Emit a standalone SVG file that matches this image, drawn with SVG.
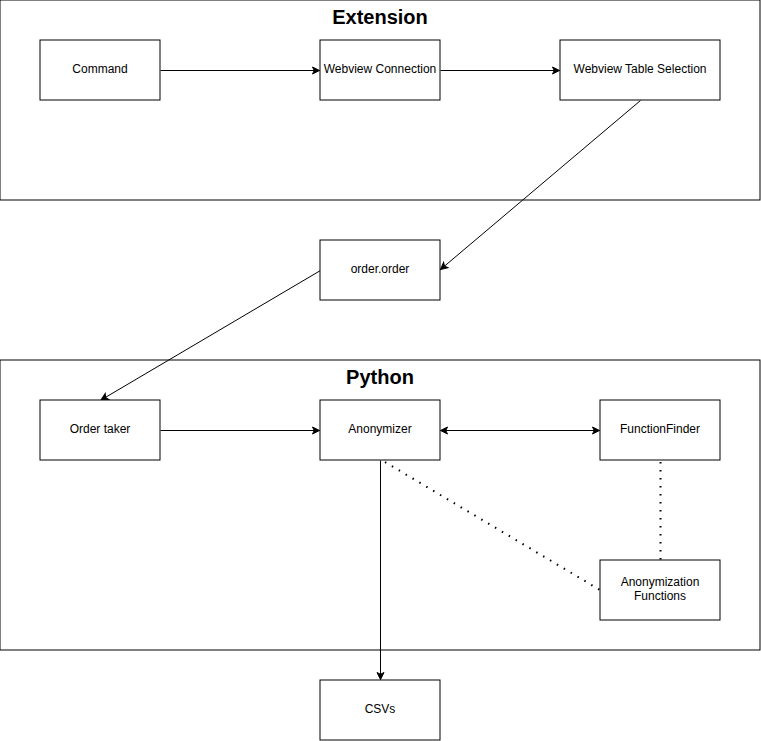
<svg xmlns="http://www.w3.org/2000/svg" width="761" height="741" viewBox="0 0 761 741">
<style>
.box{fill:#fff;stroke:#000;stroke-width:1}
.cont{fill:#fff;stroke:#000;stroke-width:1}
.lbl{font-family:"Liberation Sans",Arial,sans-serif;font-size:12px;fill:#000;text-anchor:middle}
.title{font-family:"Liberation Sans",Arial,sans-serif;font-size:20px;font-weight:bold;fill:#000;text-anchor:middle}
.edge{fill:none;stroke:#000;stroke-width:1}
.dot{fill:none;stroke:#000;stroke-width:2;stroke-dasharray:1.5 6.5}
</style>
<defs>
<marker id="arr" markerUnits="userSpaceOnUse" markerWidth="10" markerHeight="10" viewBox="-8 -5 10 10" refX="0" refY="0" orient="auto-start-reverse">
<path d="M0,0 L-7,-3.5 L-5.25,0 L-7,3.5 Z" fill="#000" stroke="#000" stroke-width="1"/>
</marker>
</defs>
<rect width="761" height="741" fill="#fff"/>
<g id="extension">
<rect class="cont" x="0" y="0" width="760" height="200"/>
<text class="title" x="380" y="24">Extension</text>
</g>
<g id="python">
<rect class="cont" x="0" y="360" width="760" height="290"/>
<text class="title" x="380" y="384">Python</text>
</g>
<g id="connectors">
<path class="edge" d="M160.5,70.5 L319.5,70.5" marker-end="url(#arr)"/>
<path class="edge" d="M440.5,70.5 L559.5,70.5" marker-end="url(#arr)"/>
<path class="edge" d="M640.5,100.5 L440.5,269.5" marker-end="url(#arr)"/>
<path class="edge" d="M320.5,270.5 L101,400" marker-end="url(#arr)"/>
<path class="edge" d="M160.5,430.5 L319.5,430.5" marker-end="url(#arr)"/>
<path class="edge" d="M440.5,430.5 L599.5,430.5" marker-start="url(#arr)" marker-end="url(#arr)"/>
<path class="edge" d="M380.5,460.5 L380.5,679.5" marker-end="url(#arr)"/>
<path class="dot" d="M385,462 L600,590"/>
<path class="dot" d="M660.5,462 L660.5,560"/>
</g>
<g id="command"><rect class="box" x="40" y="40" width="120" height="60"/><text class="lbl" x="100" y="73">Command</text></g>
<g id="webview-connection"><rect class="box" x="320" y="40" width="120" height="60"/><text class="lbl" x="380" y="73">Webview Connection</text></g>
<g id="webview-table-selection"><rect class="box" x="560" y="40" width="160" height="60"/><text class="lbl" x="640" y="73">Webview Table Selection</text></g>
<g id="order-order"><rect class="box" x="320" y="240" width="120" height="60"/><text class="lbl" x="380" y="273">order.order</text></g>
<g id="order-taker"><rect class="box" x="40" y="400" width="120" height="60"/><text class="lbl" x="100" y="433">Order taker</text></g>
<g id="anonymizer"><rect class="box" x="320" y="400" width="120" height="60"/><text class="lbl" x="380" y="433">Anonymizer</text></g>
<g id="functionfinder"><rect class="box" x="600" y="400" width="120" height="60"/><text class="lbl" x="660" y="433">FunctionFinder</text></g>
<g id="anonymization-functions"><rect class="box" x="600" y="560" width="120" height="60"/><text class="lbl" x="660" y="586">Anonymization</text><text class="lbl" x="660" y="600">Functions</text></g>
<g id="csvs"><rect class="box" x="320" y="680" width="120" height="60"/><text class="lbl" x="380" y="713">CSVs</text></g>
</svg>
